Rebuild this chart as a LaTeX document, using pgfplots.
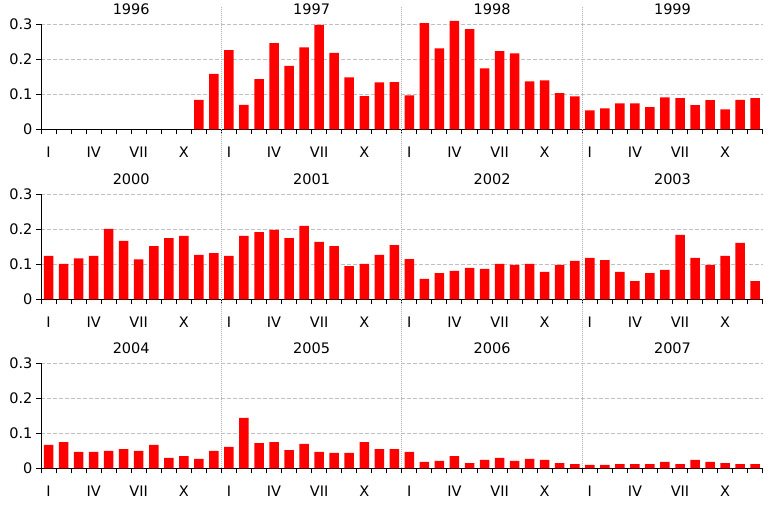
\documentclass[border=0pt]{standalone}
\usepackage{fontspec}
\setmainfont{DejaVu Sans}
\usepackage{pgfplots}
\pgfplotsset{compat=1.18}
\definecolor{gridgray}{HTML}{C0C0C0}
\definecolor{sepgray}{HTML}{B0B0B0}
\tikzset{yearlab/.style={font=\fontsize{14.5}{17}\selectfont, yshift=15.5pt}}
\pgfplotsset{
  rowstyle/.style={
    scale only axis, width=721.7pt, height=105pt, anchor=south west,
    xmin=0, xmax=48, ymin=0, ymax=0.3, clip=false,
    axis x line=bottom, axis y line=left,
    axis line style={-, black, line width=1pt},
    tick style={black, line width=1pt},
    tick align=outside, major tick length=5pt, minor tick length=5pt,
    every major x tick/.append style={draw=none},
    ytick={0,0.1,0.2,0.3}, yticklabels={0,0.1,0.2,0.3},
    xtick={0.5,3.5,6.5,9.5,12.5,15.5,18.5,21.5,24.5,27.5,30.5,33.5,36.5,39.5,42.5,45.5},
    xticklabels={I,IV,VII,X,I,IV,VII,X,I,IV,VII,X,I,IV,VII,X},
    minor xtick={0,1,...,48},
    ymajorgrids, grid style={gridgray, dash pattern=on 4pt off 2pt, line width=1pt},
    /pgf/number format/assume math mode=true,
    ticklabel style={font=\fontsize{14.5}{17}\selectfont},
    xticklabel style={yshift=-9pt},
    ybar, bar width=9.5pt, bar shift=0pt,
  },
}
\begin{document}
\begin{tikzpicture}
\useasboundingbox (0,0) rectangle (779pt,519pt);
% Row 1: 1996-1999
\begin{axis}[rowstyle, at={(41pt,389.7pt)}]
\addplot[fill=red, draw=none] coordinates {
(10.5,0.084) (11.5,0.158)
(12.5,0.226) (13.5,0.070) (14.5,0.143) (15.5,0.246) (16.5,0.181) (17.5,0.234)
(18.5,0.298) (19.5,0.218) (20.5,0.148) (21.5,0.095) (22.5,0.134) (23.5,0.135)
(24.5,0.097) (25.5,0.303) (26.5,0.231) (27.5,0.310) (28.5,0.286) (29.5,0.174)
(30.5,0.223) (31.5,0.217) (32.5,0.137) (33.5,0.140) (34.5,0.103) (35.5,0.094)
(36.5,0.054) (37.5,0.060) (38.5,0.074) (39.5,0.074) (40.5,0.063) (41.5,0.091)
(42.5,0.089) (43.5,0.069) (44.5,0.083) (45.5,0.057) (46.5,0.084) (47.5,0.089)
};
\node[yearlab] at (axis cs:6,0.3) {1996};
\node[yearlab] at (axis cs:18,0.3) {1997};
\node[yearlab] at (axis cs:30,0.3) {1998};
\node[yearlab] at (axis cs:42,0.3) {1999};
\end{axis}
% Row 2: 2000-2003
\begin{axis}[rowstyle, at={(41pt,219.7pt)}]
\addplot[fill=red, draw=none] coordinates {
(0.5,0.124) (1.5,0.101) (2.5,0.117) (3.5,0.124) (4.5,0.201) (5.5,0.167)
(6.5,0.114) (7.5,0.152) (8.5,0.175) (9.5,0.181) (10.5,0.127) (11.5,0.132)
(12.5,0.124) (13.5,0.181) (14.5,0.192) (15.5,0.198) (16.5,0.175) (17.5,0.210)
(18.5,0.164) (19.5,0.152) (20.5,0.095) (21.5,0.101) (22.5,0.127) (23.5,0.155)
(24.5,0.115) (25.5,0.058) (26.5,0.075) (27.5,0.081) (28.5,0.090) (29.5,0.087)
(30.5,0.101) (31.5,0.098) (32.5,0.101) (33.5,0.078) (34.5,0.098) (35.5,0.110)
(36.5,0.118) (37.5,0.112) (38.5,0.078) (39.5,0.052) (40.5,0.075) (41.5,0.084)
(42.5,0.184) (43.5,0.118) (44.5,0.098) (45.5,0.124) (46.5,0.161) (47.5,0.052)
};
\node[yearlab] at (axis cs:6,0.3) {2000};
\node[yearlab] at (axis cs:18,0.3) {2001};
\node[yearlab] at (axis cs:30,0.3) {2002};
\node[yearlab] at (axis cs:42,0.3) {2003};
\end{axis}
% Row 3: 2004-2007
\begin{axis}[rowstyle, at={(41pt,50.7pt)}]
\draw[sepgray, dash pattern=on 1pt off 1pt, line width=1pt] (axis cs:12,0) -- (axis cs:12,1.319);
\draw[sepgray, dash pattern=on 1pt off 1pt, line width=1pt] (axis cs:24,0) -- (axis cs:24,1.319);
\draw[sepgray, dash pattern=on 1pt off 1pt, line width=1pt] (axis cs:36,0) -- (axis cs:36,1.319);
\addplot[fill=red, draw=none] coordinates {
(0.5,0.067) (1.5,0.075) (2.5,0.047) (3.5,0.047) (4.5,0.050) (5.5,0.055)
(6.5,0.050) (7.5,0.067) (8.5,0.030) (9.5,0.035) (10.5,0.027) (11.5,0.050)
(12.5,0.061) (13.5,0.144) (14.5,0.072) (15.5,0.075) (16.5,0.052) (17.5,0.070)
(18.5,0.047) (19.5,0.044) (20.5,0.044) (21.5,0.075) (22.5,0.055) (23.5,0.055)
(24.5,0.047) (25.5,0.018) (26.5,0.021) (27.5,0.035) (28.5,0.015) (29.5,0.024)
(30.5,0.030) (31.5,0.021) (32.5,0.027) (33.5,0.024) (34.5,0.015) (35.5,0.012)
(36.5,0.010) (37.5,0.010) (38.5,0.012) (39.5,0.012) (40.5,0.012) (41.5,0.018)
(42.5,0.012) (43.5,0.024) (44.5,0.018) (45.5,0.015) (46.5,0.012) (47.5,0.012)
};
\node[yearlab] at (axis cs:6,0.3) {2004};
\node[yearlab] at (axis cs:18,0.3) {2005};
\node[yearlab] at (axis cs:30,0.3) {2006};
\node[yearlab] at (axis cs:42,0.3) {2007};
\end{axis}
\end{tikzpicture}
\end{document}
